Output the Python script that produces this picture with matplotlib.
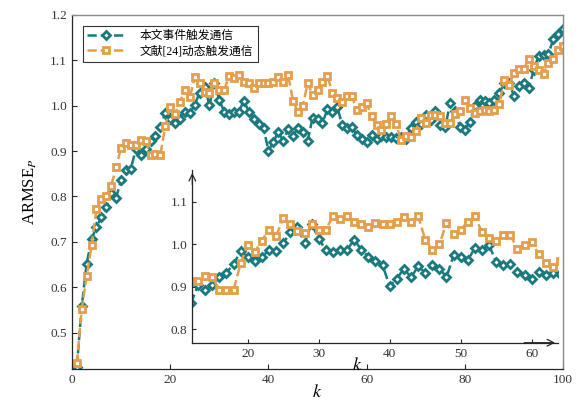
import numpy as np
import matplotlib
matplotlib.use("Agg")
import matplotlib.pyplot as plt

plt.rcParams["font.family"] = ["Liberation Serif", "Noto Sans CJK SC"]
plt.rcParams["mathtext.fontset"] = "stix"

k = np.arange(1, 101)

# ARMSE of position, proposed event-triggered scheme
armse_event = [
    0.425, 0.558, 0.652, 0.706, 0.733, 0.754, 0.776, 0.808, 0.797, 0.836,
    0.859, 0.861, 0.904, 0.892, 0.904, 0.922, 0.933, 0.953, 0.984, 0.970,
    0.961, 0.970, 0.987, 0.984, 1.002, 1.029, 1.041, 1.002, 1.049, 1.013,
    0.987, 0.982, 0.986, 0.987, 1.011, 0.987, 0.971, 0.960, 0.951, 0.901,
    0.919, 0.943, 0.922, 0.948, 0.933, 0.951, 0.943, 0.923, 0.974, 0.970,
    0.962, 0.992, 0.987, 0.998, 0.958, 0.951, 0.953, 0.935, 0.927, 0.919,
    0.935, 0.927, 0.933, 0.931, 0.931, 0.929, 0.931, 0.927, 0.951, 0.965,
    0.960, 0.980, 0.969, 0.988, 0.958, 0.953, 1.007, 0.988, 0.953, 0.947,
    0.965, 1.000, 1.013, 1.010, 1.007, 1.012, 1.028, 1.050, 1.050, 1.021,
    1.043, 1.050, 1.039, 1.079, 1.110, 1.112, 1.115, 1.146, 1.157, 1.168,
]

# ARMSE of position, dynamic triggering from ref. [24]
armse_dynamic = [
    0.432, 0.553, 0.624, 0.692, 0.772, 0.795, 0.800, 0.824, 0.864, 0.907,
    0.918, 0.914, 0.914, 0.925, 0.923, 0.892, 0.893, 0.892, 0.955, 0.998,
    0.982, 1.009, 1.035, 1.019, 1.063, 1.049, 1.031, 1.027, 1.049, 1.035,
    1.035, 1.066, 1.060, 1.068, 1.053, 1.049, 1.040, 1.050, 1.049, 1.049,
    1.053, 1.064, 1.053, 1.068, 1.011, 0.987, 1.000, 1.050, 1.024, 1.035,
    1.053, 1.066, 1.029, 1.016, 1.009, 1.021, 1.021, 0.990, 0.998, 1.005,
    0.977, 0.957, 0.947, 0.960, 0.978, 0.960, 0.924, 0.934, 0.931, 0.945,
    0.973, 0.963, 0.980, 0.980, 0.978, 0.963, 0.963, 0.982, 0.988, 1.012,
    0.995, 0.985, 0.988, 0.990, 0.988, 0.990, 1.004, 1.056, 1.046, 1.072,
    1.081, 1.081, 1.103, 1.087, 1.079, 1.070, 1.095, 1.103, 1.123, 1.132,
]

labels = ["本文事件触发通信", "文献[24]动态触发通信"]
teal = "#18797f"
orange = "#e49e4c"

style_event = dict(color=teal, ls="--", lw=1.8, marker="D", ms=4.2,
                   mfc="white", mec=teal, mew=2.0)
style_dyn = dict(color=orange, ls="--", lw=1.8, marker="s", ms=4.6,
                 mfc="white", mec=orange, mew=2.0)

fig = plt.figure(figsize=(5.8, 4.15), dpi=100)
ax = fig.add_axes([0.124, 0.111, 0.847, 0.853])

ax.plot(k, armse_event, label=labels[0], **style_event)
ax.plot(k, armse_dynamic, label=labels[1], **style_dyn)

ax.set_xlim(0, 100)
ax.set_ylim(0.42, 1.2)
ax.set_xticks(np.arange(0, 101, 20))
ax.set_yticks(np.arange(0.5, 1.21, 0.1))
ax.set_yticklabels([f"{v:.1f}" for v in np.arange(0.5, 1.21, 0.1)])
ax.tick_params(direction="in", labelsize=9.5, length=3.5, width=0.8,
               colors="#262626", labelcolor="#333333")
for side in ["left", "bottom"]:
    ax.spines[side].set_color("#262626")
    ax.spines[side].set_linewidth(0.9)
for side in ["top", "right"]:
    ax.spines[side].set_color("#8a8a8a")
    ax.spines[side].set_linewidth(1.0)

ax.set_xlabel("$k$", fontsize=13, labelpad=-1)
ax.set_ylabel("ARMSE$_{P}$", fontsize=12, labelpad=8)

leg = ax.legend(loc="upper left", bbox_to_anchor=(0.022, 0.97),
                fontsize=8.5, frameon=True, fancybox=False,
                handlelength=3.2, handletextpad=1.2, borderpad=0.4,
                labelspacing=0.25, borderaxespad=0)
leg.get_frame().set_edgecolor("black")
leg.get_frame().set_linewidth(0.8)

# zoomed view of k = 12..63
ins = fig.add_axes([0.3316, 0.1742, 0.6304, 0.4158])
ins.set_facecolor("none")
sl = slice(11, 64)
ins.plot(k[sl], armse_event[sl], **style_event)
ins.plot(k[sl], armse_dynamic[sl], **style_dyn)
ins.set_xlim(12.2, 63.7)
ins.set_ylim(0.768, 1.175)
ins.set_xticks([20, 30, 40, 50, 60])
ins.set_yticks([0.8, 0.9, 1.0, 1.1])
ins.set_yticklabels(["0.8", "0.9", "1.0", "1.1"])
ins.tick_params(direction="in", labelsize=9.5, length=3, width=0.8,
                colors="#262626", labelcolor="#333333")
ins.spines["top"].set_visible(False)
ins.spines["right"].set_visible(False)
for side in ["left", "bottom"]:
    ins.spines[side].set_color("#262626")
    ins.spines[side].set_linewidth(0.9)
ins.annotate("", xy=(0, 1), xytext=(0, 0.9), xycoords="axes fraction",
             arrowprops=dict(arrowstyle="->", lw=0.9, color="#262626",
                             mutation_scale=12))
ins.annotate("", xy=(1, 0), xytext=(0.9, 0), xycoords="axes fraction",
             arrowprops=dict(arrowstyle="->", lw=0.9, color="#262626",
                             mutation_scale=12))
ins.text(0.45, -0.13, "$k$", transform=ins.transAxes, fontsize=13,
         ha="center", va="center")

fig.savefig("out.png", dpi=100)
